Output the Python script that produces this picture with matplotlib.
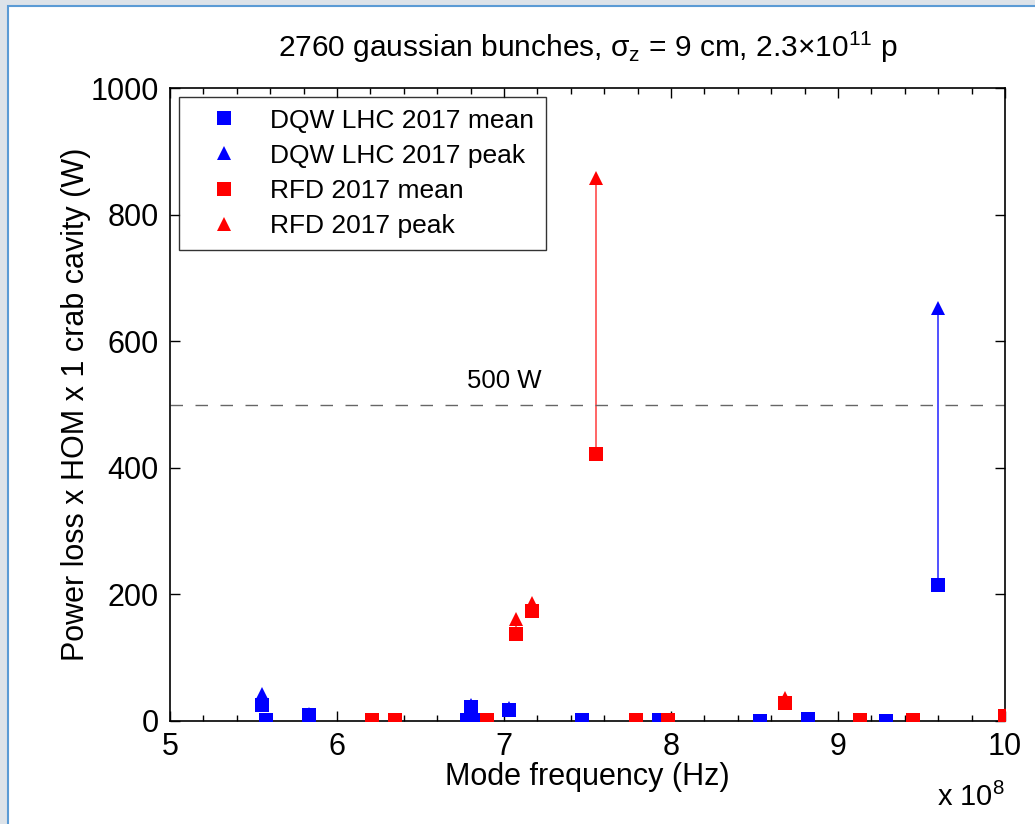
import matplotlib
matplotlib.use("Agg")
import matplotlib.pyplot as plt
import numpy as np
from matplotlib.patches import Rectangle
from matplotlib.ticker import MultipleLocator

plt.rcParams['font.family'] = ['Liberation Sans', 'DejaVu Sans']
plt.rcParams['mathtext.fontset'] = 'custom'
plt.rcParams['mathtext.rm'] = 'Liberation Sans'
plt.rcParams['mathtext.it'] = 'Liberation Sans:italic'

# mode frequency (x 1e8 Hz), power loss (W)
dqw_freq = [5.55, 5.575, 5.83, 6.78, 6.80, 6.83, 6.88, 7.03, 7.47, 7.93, 8.53, 8.82, 9.29, 9.60]
dqw_mean = [25, 2, 10, 1, 22, 1, 1, 18, 2, 1, 0, 3, 0, 215]
dqw_peak = [43, 2, 11, 1, 25, 1, 1, 20, 2, 1, 0, 3, 0, 652]

rfd_freq = [6.21, 6.35, 6.90, 7.07, 7.17, 7.55, 7.79, 7.98, 8.68, 9.13, 9.45, 10.0]
rfd_mean = [1, 1, 1, 138, 173, 422, 1, 1, 28, 1, 1, 8]
rfd_peak = [1, 1, 1, 161, 186, 858, 1, 1, 36, 1, 1, 9]

fig = plt.figure(figsize=(10.35, 8.24), dpi=100)
fig.patch.set_facecolor('#dde3e9')
fig.patches.append(Rectangle((8/1035, -0.1), 1.2, (824-6)/824+0.1, transform=fig.transFigure,
                             facecolor='white', edgecolor='#5b9bd5', linewidth=1.5, zorder=-10))

ax = fig.add_axes([170/1035, 1-721/824, 835/1035, 633/824])
ax.set_facecolor('none')

for f, m, p in zip(dqw_freq, dqw_mean, dqw_peak):
    ax.plot([f, f], [m, p], color='blue', lw=1.2, alpha=0.8)
for f, m, p in zip(rfd_freq, rfd_mean, rfd_peak):
    ax.plot([f, f], [m, p], color='red', lw=1.2, alpha=0.7)

ax.plot(dqw_freq, dqw_peak, '^', color='blue', ms=10, mew=0, ls='none', label='DQW LHC 2017 peak', zorder=3)
ax.plot(dqw_freq, dqw_mean, 's', color='blue', ms=10, mew=0, ls='none', label='DQW LHC 2017 mean', zorder=3)
ax.plot(rfd_freq, rfd_peak, '^', color='red', ms=10, mew=0, ls='none', label='RFD 2017 peak', zorder=4)
ax.plot(rfd_freq, rfd_mean, 's', color='red', ms=10, mew=0, ls='none', label='RFD 2017 mean', zorder=4)

ax.axhline(500, color='#666666', ls=(0, (9, 9)), lw=1.0)
ax.text(7.0, 518, '500 W', fontsize=18.5, ha='center', va='bottom')

ax.set_xlim(5, 10)
ax.set_ylim(0, 1000)
ax.xaxis.set_major_locator(MultipleLocator(1))
ax.xaxis.set_minor_locator(MultipleLocator(0.2))
ax.yaxis.set_major_locator(MultipleLocator(200))
ax.tick_params(which='both', direction='in', top=True, right=True, labelsize=22, pad=8)
ax.tick_params(which='major', length=7, width=1)
ax.tick_params(which='minor', length=4, width=1)
for s in ax.spines.values():
    s.set_linewidth(1.2)

ax.set_xlabel('Mode frequency (Hz)', fontsize=22, labelpad=0)
ax.set_ylabel('Power loss x HOM x 1 crab cavity (W)', fontsize=22, labelpad=0)
ax.set_title(r'2760 gaussian bunches, σ$_\mathrm{z}$ = 9 cm, 2.3×10$^{11}$ p', fontsize=21.5, pad=22)
ax.text(1.0, -0.098, r'x 10$^{8}$', transform=ax.transAxes, fontsize=21, ha='right', va='top')

h, l = ax.get_legend_handles_labels()
order = [1, 0, 3, 2]
leg = ax.legend([h[i] for i in order], [l[i] for i in order], loc='upper left', fontsize=19,
                frameon=True, fancybox=False, edgecolor='black', borderaxespad=0.33, borderpad=0.45,
                handletextpad=0.5, handlelength=2.5, labelspacing=0.42)
leg.get_frame().set_linewidth(1.0)

fig.savefig('out.png', dpi=100, facecolor=fig.get_facecolor())
